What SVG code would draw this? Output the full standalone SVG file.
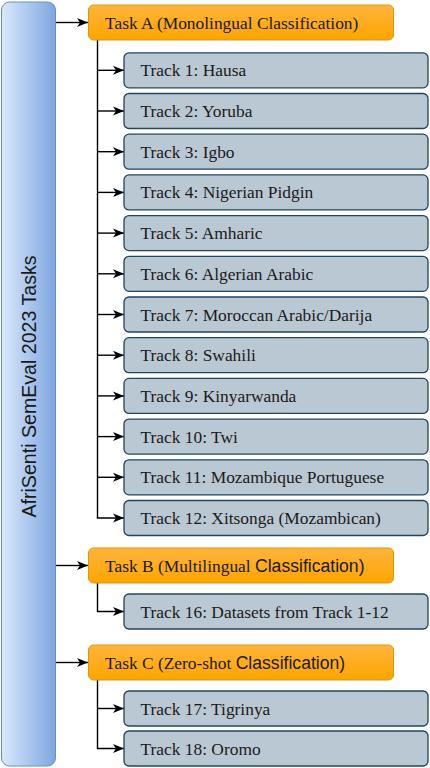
<svg xmlns="http://www.w3.org/2000/svg" width="430" height="768" viewBox="0 0 430 768">
  <defs>
    <linearGradient id="gBar" x1="0" y1="0" x2="1" y2="0">
      <stop offset="0" stop-color="#dae8fc"/>
      <stop offset="1" stop-color="#7ea6e0"/>
    </linearGradient>
    <linearGradient id="gTask" x1="0" y1="0" x2="0" y2="1">
      <stop offset="0" stop-color="#ffb43c"/>
      <stop offset="1" stop-color="#ffa500"/>
    </linearGradient>
    <marker id="arr" markerUnits="userSpaceOnUse" markerWidth="12" markerHeight="10" refX="11" refY="5" orient="auto">
      <path d="M0,0.5 L11,5 L0,9.5 L3,5 Z" fill="#000"/>
    </marker>
  </defs>
  <style>
    .task{fill:url(#gTask);stroke:#d79b00;stroke-width:1}
    .track{fill:#bac8d3;stroke:#23445d;stroke-width:1.3}
    .serif{font-family:"Liberation Serif","Times New Roman",serif;font-size:17.4px;fill:#1a1a1a}
    .sans{font-family:"Liberation Sans",Arial,sans-serif;font-size:17.6px}
    .conn{fill:none;stroke:#000;stroke-width:1.4}
  </style>

  <g id="root">
    <rect x="1.5" y="2" width="54" height="764" rx="8" fill="url(#gBar)" stroke="#6c8ebf" stroke-width="1"/>
    <text transform="translate(36,386.5) rotate(-90)" text-anchor="middle" font-family="'Liberation Sans',Arial,sans-serif" font-size="19.6" fill="#1a1a1a">AfriSenti SemEval 2023 Tasks</text>
  </g>

  <g id="connectors">
    <line class="conn" x1="56" y1="22.5" x2="88" y2="22.5" marker-end="url(#arr)"/>
    <line class="conn" x1="56" y1="565.5" x2="88" y2="565.5" marker-end="url(#arr)"/>
    <line class="conn" x1="56" y1="662.5" x2="88" y2="662.5" marker-end="url(#arr)"/>
    <path class="conn" d="M97.5,40 V518"/>
    <line class="conn" x1="97.5" y1="70.3" x2="124" y2="70.3" marker-end="url(#arr)"/>
    <line class="conn" x1="97.5" y1="111" x2="124" y2="111" marker-end="url(#arr)"/>
    <line class="conn" x1="97.5" y1="151.7" x2="124" y2="151.7" marker-end="url(#arr)"/>
    <line class="conn" x1="97.5" y1="192.4" x2="124" y2="192.4" marker-end="url(#arr)"/>
    <line class="conn" x1="97.5" y1="233.1" x2="124" y2="233.1" marker-end="url(#arr)"/>
    <line class="conn" x1="97.5" y1="273.8" x2="124" y2="273.8" marker-end="url(#arr)"/>
    <line class="conn" x1="97.5" y1="314.5" x2="124" y2="314.5" marker-end="url(#arr)"/>
    <line class="conn" x1="97.5" y1="355.2" x2="124" y2="355.2" marker-end="url(#arr)"/>
    <line class="conn" x1="97.5" y1="395.9" x2="124" y2="395.9" marker-end="url(#arr)"/>
    <line class="conn" x1="97.5" y1="436.6" x2="124" y2="436.6" marker-end="url(#arr)"/>
    <line class="conn" x1="97.5" y1="477.3" x2="124" y2="477.3" marker-end="url(#arr)"/>
    <path class="conn" d="M97.5,517.3 V518 H124" marker-end="url(#arr)"/>
    <path class="conn" d="M97.5,583 V611.5 H124" marker-end="url(#arr)"/>
    <path class="conn" d="M97.5,680 V748.5 H124" marker-end="url(#arr)"/>
    <line class="conn" x1="97.5" y1="708.5" x2="124" y2="708.5" marker-end="url(#arr)"/>
  </g>

  <g id="taskA">
    <rect class="task" x="88.5" y="5" width="305" height="35" rx="5"/>
    <text class="serif" x="105" y="28.5">Task A (Monolingual Classification)</text>
  </g>
  <g id="track1"><rect class="track" x="124" y="52.8" width="304" height="35" rx="5"/><text class="serif" x="140.5" y="76.3">Track 1: Hausa</text></g>
  <g id="track2"><rect class="track" x="124" y="93.5" width="304" height="35" rx="5"/><text class="serif" x="140.5" y="117">Track 2: Yoruba</text></g>
  <g id="track3"><rect class="track" x="124" y="134.2" width="304" height="35" rx="5"/><text class="serif" x="140.5" y="157.7">Track 3: Igbo</text></g>
  <g id="track4"><rect class="track" x="124" y="174.9" width="304" height="35" rx="5"/><text class="serif" x="140.5" y="198.4">Track 4: Nigerian Pidgin</text></g>
  <g id="track5"><rect class="track" x="124" y="215.6" width="304" height="35" rx="5"/><text class="serif" x="140.5" y="239.1">Track 5: Amharic</text></g>
  <g id="track6"><rect class="track" x="124" y="256.3" width="304" height="35" rx="5"/><text class="serif" x="140.5" y="279.8">Track 6: Algerian Arabic</text></g>
  <g id="track7"><rect class="track" x="124" y="297" width="304" height="35" rx="5"/><text class="serif" x="140.5" y="320.5">Track 7: Moroccan Arabic/Darija</text></g>
  <g id="track8"><rect class="track" x="124" y="337.7" width="304" height="35" rx="5"/><text class="serif" x="140.5" y="361.2">Track 8: Swahili</text></g>
  <g id="track9"><rect class="track" x="124" y="378.4" width="304" height="35" rx="5"/><text class="serif" x="140.5" y="401.9">Track 9: Kinyarwanda</text></g>
  <g id="track10"><rect class="track" x="124" y="419.1" width="304" height="35" rx="5"/><text class="serif" x="140.5" y="442.6">Track 10: Twi</text></g>
  <g id="track11"><rect class="track" x="124" y="459.8" width="304" height="35" rx="5"/><text class="serif" x="140.5" y="483.3">Track 11: Mozambique Portuguese</text></g>
  <g id="track12"><rect class="track" x="124" y="500.5" width="304" height="35" rx="5"/><text class="serif" x="140.5" y="524">Track 12: Xitsonga (Mozambican)</text></g>

  <g id="taskB">
    <rect class="task" x="88.5" y="548" width="305" height="35" rx="5"/>
    <text class="serif" x="105" y="571.5">Task B (Multilingual <tspan class="sans">Classification)</tspan></text>
  </g>
  <g id="track16"><rect class="track" x="124" y="594" width="304" height="35" rx="5"/><text class="serif" x="140.5" y="617.5">Track 16: Datasets from Track 1-12</text></g>

  <g id="taskC">
    <rect class="task" x="88.5" y="645" width="305" height="35" rx="5"/>
    <text class="serif" x="105" y="668.5">Task C (Zero-shot <tspan class="sans">Classification)</tspan></text>
  </g>
  <g id="track17"><rect class="track" x="124" y="691" width="304" height="35" rx="5"/><text class="serif" x="140.5" y="714.5">Track 17: Tigrinya</text></g>
  <g id="track18"><rect class="track" x="124" y="731" width="304" height="35" rx="5"/><text class="serif" x="140.5" y="754.5">Track 18: Oromo</text></g>
</svg>
